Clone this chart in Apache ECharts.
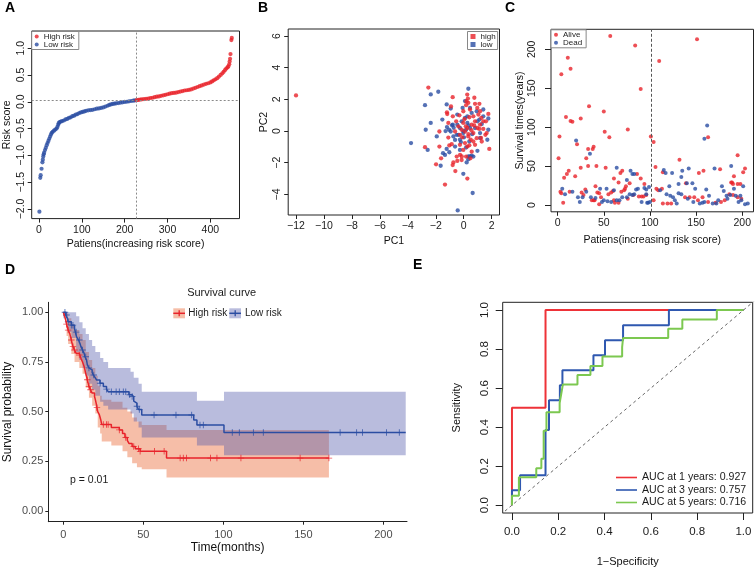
<!DOCTYPE html>
<html>
<head>
<meta charset="utf-8">
<script src="https://cdn.jsdelivr.net/npm/echarts@6.0.0/dist/echarts.min.js"></script>
<style>
  html, body { margin: 0; padding: 0; background: #fff; }
  #fig { width: 755px; height: 568px; }
</style>
</head>
<body>
<div id="fig"></div>
<script>
// ---- A: risk score curve (patient index, risk score) ----
var riskLow = [[1,-2.05],[3,-1.42],[4,-1.37],[6,-1.25],[8,-1.13],[9,-1.08],[10,-1.02],[11,-0.98],[12,-0.95],[14,-0.9],[16,-0.86],[18,-0.81],[20,-0.77],[22,-0.73],[24,-0.69],[26,-0.65],[28,-0.61],[30,-0.58],[32,-0.56],[35,-0.54],[38,-0.52],[41,-0.5],[43,-0.47],[45,-0.43],[46,-0.4],[48,-0.38],[51,-0.37],[54,-0.36],[58,-0.35],[62,-0.33],[66,-0.32],[70,-0.3],[74,-0.29],[78,-0.27],[82,-0.26],[86,-0.24],[90,-0.23],[94,-0.21],[98,-0.2],[102,-0.19],[106,-0.18],[110,-0.17],[115,-0.16],[120,-0.155],[125,-0.15],[130,-0.14],[135,-0.13],[140,-0.125],[145,-0.115],[150,-0.105],[155,-0.09],[160,-0.075],[164,-0.06],[168,-0.05],[172,-0.04],[176,-0.035],[180,-0.03],[185,-0.025],[190,-0.018],[195,-0.01],[200,-0.004],[205,0.0],[210,0.008],[215,0.014],[220,0.02],[224,0.025]];
var riskHigh = [[228,0.03],[232,0.035],[236,0.04],[240,0.045],[245,0.05],[250,0.055],[255,0.06],[260,0.07],[265,0.075],[270,0.085],[275,0.095],[280,0.1],[285,0.11],[290,0.12],[295,0.13],[300,0.14],[305,0.15],[310,0.16],[315,0.165],[320,0.17],[325,0.18],[330,0.19],[335,0.2],[340,0.21],[345,0.215],[350,0.22],[355,0.23],[360,0.245],[365,0.26],[370,0.275],[375,0.29],[380,0.305],[385,0.32],[390,0.335],[395,0.345],[400,0.36],[404,0.38],[408,0.4],[412,0.42],[416,0.44],[420,0.47],[424,0.5],[428,0.53],[431,0.56],[434,0.59],[437,0.62],[440,0.64],[442,0.66],[444,0.7],[445,0.75],[446,0.8],[447,0.89],[449,1.15],[450,1.19]];
var riskCut = 226.5;
var riskMedian = 0.03;

// ---- B: PCA (PC1, PC2) ----
var pcaHigh = [[-12.0,2.25],[-2.53,2.74],[-0.79,2.14],[0.25,2.3],[0.3,2.05],[0.2,1.88],[0.33,1.78],[1.12,1.72],[0.97,1.46],[-0.91,1.55],[-1.2,1.18],[-1.18,1.07],[-2.77,-1.02],[-1.98,-2.1],[-1.34,-3.38],[0.26,-3.0],[-0.6,-2.53],[-0.79,-2.15],[-0.46,-1.89],[0.48,-1.72],[-0.14,-1.6],[-0.26,-1.5],[-1.62,-1.72],[-1.03,-0.91],[-0.86,-0.83],[-1.74,-0.98],[-1.74,-0.03],[-1.1,-0.41],[1.83,-1.13],[1.55,-0.24],[1.76,1.08],[1.26,0.83],[1.12,0.13],[1.24,-0.44],[-0.31,0.99],[-0.03,1.25],[0.45,1.36],[0.69,0.93],[0.81,0.61],[0.57,0.4],[0.26,0.19],[0.09,-0.03],[-0.15,0.08],[-0.27,-0.24],[0.33,-0.19],[0.69,-0.13],[0.98,0.19],[1.17,0.4],[0.93,-0.45],[0.5,-0.55],[0.09,-0.76],[-0.27,-0.87],[0.26,-0.98],[0.81,-0.87],[1.29,-0.66],[-0.03,0.51],[-0.38,0.29],[1.05,1.04],[1.4,0.61],[0.4,0.87],[0.17,1.63],[-0.54,0.61],[-0.78,0.93],[-1.1,0.51],[-0.03,-1.19],[0.57,-1.3],[-0.5,-1.61],[0.17,-1.61],[-0.74,-1.98],[-0.15,-1.83],[0.33,-0.34],[0.69,-0.66],[-0.62,-0.03],[1.4,0.13],[1.59,0.61],[1.64,-0.13],[1.17,1.25],[0.81,1.72],[0.76,2.1],[0.15,0.3],[0.55,0.05],[-0.1,-0.4],[0.4,-0.9],[0.75,0.35],[0.05,0.75]];
var pcaLow = [[-1.82,2.48],[-2.36,2.31],[0.33,2.67],[-2.77,1.63],[-1.22,1.68],[-0.93,1.42],[-1.53,0.72],[-2.36,0.51],[-2.72,0.08],[-3.77,-0.76],[-2.58,-1.19],[-1.65,-2.19],[0.64,-3.91],[-0.43,-5.01],[-0.03,-2.7],[0.21,-1.98],[0.33,-1.6],[0.45,-1.6],[0.57,-1.55],[-1.34,-1.51],[-1.48,-1.4],[-1.03,-1.34],[-1.22,-1.13],[-1.93,-0.34],[-1.3,0.0],[-1.2,0.25],[-1.05,0.08],[-0.84,0.36],[-0.72,0.2],[-0.5,-0.24],[-0.62,-0.56],[1.69,-0.55],[1.4,1.36],[1.76,0.79],[1.17,-0.44],[-0.46,0.4],[-0.15,0.61],[-0.27,0.19],[-0.03,-0.13],[0.17,0.08],[0.45,0.19],[0.26,0.51],[0.09,0.83],[0.57,1.14],[0.93,1.25],[1.4,0.93],[1.12,0.72],[-0.27,-0.55],[0.02,-0.4],[0.4,-0.66],[0.17,-1.04],[-0.27,-1.19],[-0.62,-0.98],[0.98,-1.25],[1.17,-0.13],[0.81,0.19],[-0.74,-0.34],[-0.93,-0.03],[-0.46,1.04],[-0.08,1.46],[0.09,1.89],[0.45,1.46],[0.26,0.93],[0.98,0.61],[1.29,0.44],[1.76,0.08],[0.69,-1.61],[0.33,-1.78],[-0.03,0.0],[-0.38,-0.24],[-0.78,0.4],[0.6,-0.2],[-0.2,-0.7],[0.35,0.35]];

// ---- C: survival time by patient index ----
var survAlive = [[57,217],[84,205],[11,189],[4,168],[14,175],[90,149],[34,127],[50,120],[9,113],[25,111],[14,108],[16,107],[2,88],[51,94],[56,87],[76,97],[21,78],[39,75],[33,72],[38,72],[31,60],[1,60],[33,50],[42,50],[25,48],[52,48],[12,44],[10,40],[7,35],[19,37],[70,44],[68,41],[86,40],[90,34],[61,34],[66,29],[74,24],[73,21],[78,28],[41,24],[94,27],[3,17],[4,15],[6,3],[13,17],[26,16],[30,20],[28,13],[37,6],[39,6],[40,6],[43,16],[45,15],[47,10],[45,1],[55,14],[58,16],[60,18],[61,6],[62,3],[66,3],[69,17],[72,19],[76,8],[82,13],[88,11],[91,11],[93,11],[96,13],[151,213],[110,185],[163,87],[101,88],[104,81],[195,64],[106,49],[132,58],[114,42],[153,41],[158,44],[176,46],[203,47],[201,42],[191,37],[198,27],[188,29],[190,27],[107,21],[109,19],[113,21],[104,6],[114,2],[119,2],[123,2],[138,10],[143,10],[139,28],[148,10],[152,6],[157,10],[163,4],[171,3],[177,4],[181,6],[186,14],[190,13],[195,10],[199,8],[195,27],[189,29]];
var survDead = [[20,83],[35,66],[64,48],[79,44],[81,40],[83,40],[75,32],[94,22],[96,20],[5,21],[8,14],[16,17],[22,10],[24,4],[27,10],[31,17],[36,10],[41,9],[46,21],[50,6],[53,21],[48,4],[54,5],[58,4],[64,6],[67,6],[70,10],[75,10],[78,14],[81,13],[83,14],[85,20],[87,21],[91,4],[98,3],[61,19],[162,102],[159,85],[115,45],[117,41],[124,41],[135,44],[142,47],[170,47],[188,50],[134,36],[131,27],[121,24],[146,28],[140,28],[96,14],[99,23],[100,4],[97,3],[111,19],[118,14],[122,12],[125,10],[127,6],[129,2],[131,15],[134,14],[141,8],[147,4],[149,21],[154,2],[157,3],[159,4],[161,20],[164,12],[168,2],[172,2],[174,6],[178,24],[180,18],[183,12],[184,8],[187,13],[191,21],[193,12],[196,4],[199,6],[201,24],[203,1],[198,12],[206,2]];
var survCut = 101.5;

// ---- D: Kaplan-Meier (months, survival) ----
var kmHigh = [[0,1.0],[1,0.975],[1.5,0.96],[2,0.94],[2.5,0.927],[3,0.91],[4,0.893],[4.5,0.876],[5,0.86],[5.5,0.843],[6,0.827],[7,0.81],[8,0.793],[10,0.785],[11,0.768],[12,0.75],[13,0.727],[13.5,0.71],[14,0.69],[14.5,0.677],[15,0.66],[15.5,0.643],[16,0.627],[17,0.61],[18,0.593],[19.5,0.576],[20,0.56],[20.5,0.543],[21,0.52],[21.5,0.5],[22.5,0.485],[23,0.47],[23.5,0.455],[24,0.435],[30,0.42],[35,0.408],[37,0.39],[38.5,0.37],[40,0.355],[41,0.34],[43,0.325],[45,0.313],[48,0.3],[64.5,0.266],[166,0.266]];
var kmLow = [[0,1.0],[1.5,0.986],[2.5,0.97],[3,0.952],[5,0.935],[7,0.918],[7.5,0.9],[8.3,0.876],[9.5,0.86],[10.4,0.843],[11,0.827],[12,0.81],[13,0.793],[13.5,0.776],[14.5,0.76],[15,0.735],[16,0.72],[16.7,0.71],[18,0.697],[18.75,0.684],[20,0.67],[20.8,0.659],[22.9,0.643],[25,0.626],[27,0.613],[28,0.6],[41,0.585],[42.5,0.576],[44,0.553],[45,0.543],[46,0.527],[47,0.51],[49,0.483],[81.5,0.458],[83.5,0.433],[100.4,0.395],[214,0.395]];
var ciHighUpper = [[0,1],[2,0.995],[3,0.97],[5,0.94],[7,0.91],[10,0.89],[12,0.86],[14,0.8],[16,0.76],[18,0.72],[20,0.68],[21.5,0.63],[23,0.58],[24,0.56],[30,0.55],[37,0.52],[40,0.5],[43,0.47],[46,0.45],[49,0.433],[64.5,0.408],[166,0.408]];
var ciHighLower = [[0,0.98],[2,0.88],[3,0.84],[5,0.79],[7,0.75],[10,0.72],[12,0.69],[14,0.62],[16,0.57],[18,0.53],[20,0.49],[21.5,0.42],[23,0.39],[24,0.35],[30,0.33],[37,0.3],[40,0.27],[43,0.24],[46,0.22],[49,0.21],[64.5,0.168],[166,0.168]];
var ciLowUpper = [[0,1],[5,1],[8,0.98],[10,0.95],[12,0.92],[14,0.89],[16,0.86],[18,0.83],[20,0.8],[23,0.77],[25,0.75],[28,0.72],[42,0.7],[44,0.67],[47,0.64],[49,0.6],[83.5,0.555],[100.4,0.6],[214,0.6]];
var ciLowLower = [[0,0.97],[3,0.9],[5,0.87],[8,0.8],[10,0.76],[12,0.72],[14,0.68],[16,0.64],[18,0.61],[20,0.58],[23,0.55],[25,0.53],[28,0.51],[42,0.49],[44,0.45],[47,0.42],[49,0.37],[83.5,0.33],[100.4,0.28],[214,0.28]];
var censorHigh = [2,3,5,6,7,10,15,16,17,21,25,27,28,35,39,44,47,48,57,63,73,75,77,92,96,111,148,166];
var censorLow = [1,2,3,5,6,8,10,12,14,16,19,23,27,30,33,35,37.5,39,41.5,43,46,47.5,56.7,70.4,80.2,85.4,87.5,105.6,110,118.8,125,173,183.3,187,202,210];
var pValue = 'p = 0.01';

// ---- E: time-dependent ROC (1-specificity, sensitivity) ----
var roc1 = [[0,0],[0,0.5],[0.145,0.5],[0.145,1],[1,1]];
var roc3 = [[0,0],[0,0.077],[0.035,0.077],[0.035,0.154],[0.145,0.154],[0.145,0.385],[0.16,0.385],[0.16,0.538],[0.207,0.538],[0.207,0.615],[0.218,0.615],[0.218,0.692],[0.352,0.692],[0.352,0.769],[0.402,0.769],[0.402,0.846],[0.48,0.846],[0.48,0.923],[0.678,0.923],[0.678,1],[1,1]];
var roc5 = [[0,0],[0,0.048],[0.03,0.048],[0.03,0.143],[0.105,0.143],[0.105,0.19],[0.127,0.19],[0.127,0.238],[0.137,0.238],[0.137,0.381],[0.149,0.381],[0.149,0.476],[0.206,0.476],[0.206,0.524],[0.213,0.524],[0.213,0.571],[0.22,0.571],[0.22,0.619],[0.283,0.619],[0.283,0.667],[0.339,0.667],[0.339,0.714],[0.391,0.714],[0.391,0.762],[0.476,0.762],[0.476,0.81],[0.48,0.81],[0.48,0.857],[0.675,0.857],[0.675,0.905],[0.736,0.905],[0.736,0.952],[0.885,0.952],[0.885,1],[1,1]];
var rocNames = ['AUC at 1 years: 0.927', 'AUC at 3 years: 0.757', 'AUC at 5 years: 0.716'];

// tick positions
var aXTicks = [0,100,200,300,400], aYTicks = [-2,-1.5,-1,-0.5,0,0.5,1];
var bXTicks = [-12,-10,-8,-6,-4,-2,0,2], bYTicks = [-4,-2,0,2,4,6];
var cXTicks = [0,50,100,150,200], cYTicks = [0,50,100,150,200];
var dXTicks = [0,50,100,150,200], dYTicks = [0,0.25,0.5,0.75,1];
var eTicks = [0,0.2,0.4,0.6,0.8,1];

var FONT = '"Liberation Sans", Arial, sans-serif';
var RED = '#E8232B', BLUE = '#2B4DA2';

function minus(s) { return String(s).replace('-', '\u2212'); }

function axis(o) {
  return {
    type: 'value', gridIndex: o.g, min: o.min, max: o.max,
    axisLine: { show: !!o.line, onZero: false, lineStyle: { color: '#222', width: 1 } },
    axisTick: { show: true, length: o.tl || 4, customValues: o.ticks, lineStyle: { color: '#222', width: 1 } },
    axisLabel: { customValues: o.ticks, formatter: o.fmt, rotate: o.rot || 0, margin: o.m,
      fontSize: o.fs, color: o.lc || '#1a1a1a', fontFamily: FONT, hideOverlap: false },
    splitLine: { show: false },
    name: o.name, nameLocation: 'middle', nameGap: o.ng,
    nameTextStyle: { fontSize: o.nfs || o.fs, color: '#111', fontFamily: FONT }
  };
}

// step-function helpers for the KM panel
function stepPts(arr) {
  var out = [];
  for (var i = 0; i < arr.length; i++) {
    if (i > 0) out.push([arr[i][0], arr[i - 1][1]]);
    out.push(arr[i]);
  }
  return out;
}
function survAt(curve, t) {
  var s = curve[0][1];
  for (var i = 0; i < curve.length; i++) { if (curve[i][0] <= t) s = curve[i][1]; }
  return s;
}
function band(upper, lower, fill) {
  return {
    type: 'custom', xAxisIndex: 3, yAxisIndex: 3, silent: true, clip: true,
    data: [[0, 0.5]],
    renderItem: function (params, api) {
      var pts = stepPts(upper).map(function (p) { return api.coord(p); });
      stepPts(lower).reverse().forEach(function (p) { pts.push(api.coord(p)); });
      return { type: 'polygon', shape: { points: pts }, style: { fill: fill } };
    }
  };
}
var PLUS = 'path://M0,4.3H10V5.7H0ZM4.3,0H5.7V10H4.3Z';

var fmt1 = function (v) { return minus(v.toFixed(1)); };
var fmt0 = function (v) { return minus(String(v)); };
var fmt2 = function (v) { return v.toFixed(2); };

var chart = echarts.init(document.getElementById('fig'), null, { renderer: 'canvas' });

var option = {
  animation: false,
  backgroundColor: '#fff',
  textStyle: { fontFamily: FONT },
  grid: [
    { left: 31.7, top: 31, width: 207.8, height: 187.6, show: true, borderColor: '#222', borderWidth: 1, backgroundColor: 'transparent' },
    { left: 288.2, top: 29, width: 211.3, height: 186, show: true, borderColor: '#222', borderWidth: 1, backgroundColor: 'transparent' },
    { left: 551, top: 29.3, width: 202.5, height: 182.5, show: true, borderColor: '#222', borderWidth: 1, backgroundColor: 'transparent' },
    { left: 48.3, top: 302.3, width: 358.7, height: 219.4 },
    { left: 502.7, top: 302.3, width: 250, height: 211, show: true, borderColor: '#222', borderWidth: 1, backgroundColor: 'transparent' }
  ],
  xAxis: [
    axis({ g: 0, min: -17, max: 468, ticks: aXTicks, fmt: fmt0, m: 6, fs: 10.5, name: 'Patiens(increasing risk score)', ng: 20 }),
    axis({ g: 1, min: -12.56, max: 2.56, ticks: bXTicks, fmt: fmt0, m: 6, fs: 10.5, name: 'PC1', ng: 21 }),
    axis({ g: 2, min: -7.2, max: 212.2, ticks: cXTicks, fmt: fmt0, m: 6, fs: 10.5, name: 'Patiens(increasing risk score)', ng: 23 }),
    axis({ g: 3, min: -9.4, max: 214.8, ticks: dXTicks, fmt: fmt0, m: 8, fs: 11, tl: 3, line: true, lc: '#4d4d4d', name: 'Time(months)', ng: 19, nfs: 12 }),
    axis({ g: 4, min: -0.04, max: 1.04, ticks: eTicks, fmt: fmt1, m: 13, fs: 11.5, tl: 7, name: '1\u2212Specificity', ng: 43, nfs: 11 })
  ],
  yAxis: [
    axis({ g: 0, min: -2.18, max: 1.32, ticks: aYTicks, fmt: fmt1, rot: 90, m: 5, fs: 10.5, name: 'Risk score', ng: 19 }),
    axis({ g: 1, min: -5.3, max: 6.44, ticks: bYTicks, fmt: fmt0, rot: 90, m: 6, fs: 10.5, name: 'PC2', ng: 19 }),
    axis({ g: 2, min: -8.7, max: 225.7, ticks: cYTicks, fmt: fmt0, rot: 90, m: 13, fs: 10.5, tl: 6, name: 'Survival times(years)', ng: 21 }),
    axis({ g: 3, min: -0.054, max: 1.05, ticks: dYTicks, fmt: fmt2, m: 5, fs: 11, tl: 3, line: true, lc: '#4d4d4d', name: 'Survival probability', ng: 35, nfs: 12 }),
    axis({ g: 4, min: -0.04, max: 1.04, ticks: eTicks, fmt: fmt1, rot: 90, m: 12, fs: 11.5, tl: 7, name: 'Sensitivity', ng: 40, nfs: 11 })
  ],
  legend: [
    { left: 31.7, top: 31.5, orient: 'vertical', data: ['High risk', 'Low risk'], icon: 'circle', itemWidth: 4, itemHeight: 4, itemGap: 0,
      padding: [1, 4, 1, 3], borderColor: '#888', borderWidth: 1, backgroundColor: '#fff', selectedMode: false,
      textStyle: { fontSize: 8, fontFamily: FONT, color: '#222' } },
    { left: 467.5, top: 31.5, orient: 'vertical', data: ['high', 'low'], icon: 'rect', itemWidth: 5, itemHeight: 5, itemGap: 0,
      padding: [1, 2, 1, 3], borderColor: '#888', borderWidth: 1, backgroundColor: '#fff', selectedMode: false,
      textStyle: { fontSize: 8, fontFamily: FONT, color: '#222' } },
    { left: 551, top: 29.8, orient: 'vertical', data: ['Alive', 'Dead'], icon: 'circle', itemWidth: 4, itemHeight: 4, itemGap: 0,
      padding: [1, 4, 1, 3], borderColor: '#888', borderWidth: 1, backgroundColor: '#fff', selectedMode: false,
      textStyle: { fontSize: 8, fontFamily: FONT, color: '#222' } },
    { left: 611, top: 467, orient: 'vertical', data: rocNames, icon: 'rect', itemWidth: 21, itemHeight: 1.6, itemGap: 1.5,
      selectedMode: false, textStyle: { fontSize: 10.6, fontFamily: FONT, color: '#1a1a1a' } }
  ],
  series: [
    { name: 'Low risk', type: 'scatter', xAxisIndex: 0, yAxisIndex: 0, data: riskLow, symbolSize: 4.2, itemStyle: { color: BLUE },
      markLine: { silent: true, symbol: ['none', 'none'], label: { show: false },
        lineStyle: { type: [2, 2], color: '#8a8a8a', width: 1 },
        data: [{ yAxis: riskMedian }, { xAxis: riskCut }] } },
    { name: 'High risk', type: 'scatter', xAxisIndex: 0, yAxisIndex: 0, data: riskHigh, symbolSize: 4.2, itemStyle: { color: RED } },

    { name: 'low', type: 'scatter', xAxisIndex: 1, yAxisIndex: 1, data: pcaLow, symbolSize: 4.3, itemStyle: { color: BLUE } },
    { name: 'high', type: 'scatter', xAxisIndex: 1, yAxisIndex: 1, data: pcaHigh, symbolSize: 4.3, itemStyle: { color: RED } },

    { name: 'Alive', type: 'scatter', xAxisIndex: 2, yAxisIndex: 2, data: survAlive, symbolSize: 4, itemStyle: { color: RED },
      markLine: { silent: true, symbol: ['none', 'none'], label: { show: false },
        lineStyle: { type: [3, 2], color: '#555', width: 1 }, data: [{ xAxis: survCut }] } },
    { name: 'Dead', type: 'scatter', xAxisIndex: 2, yAxisIndex: 2, data: survDead, symbolSize: 4, itemStyle: { color: BLUE } },

    band(ciHighUpper, ciHighLower, 'rgba(234,100,48,0.42)'),
    band(ciLowUpper, ciLowLower, 'rgba(80,88,170,0.40)'),
    { name: 'High risk KM', type: 'line', xAxisIndex: 3, yAxisIndex: 3, data: kmHigh, step: 'end', showSymbol: false,
      lineStyle: { color: RED, width: 1.5 }, itemStyle: { color: RED } },
    { name: 'Low risk KM', type: 'line', xAxisIndex: 3, yAxisIndex: 3, data: kmLow, step: 'end', showSymbol: false,
      lineStyle: { color: BLUE, width: 1.5 }, itemStyle: { color: BLUE } },
    { name: 'High risk censored', type: 'scatter', xAxisIndex: 3, yAxisIndex: 3, symbol: PLUS, symbolSize: 6.5,
      data: censorHigh.map(function (t) { return [t, survAt(kmHigh, t)]; }), itemStyle: { color: RED } },
    { name: 'Low risk censored', type: 'scatter', xAxisIndex: 3, yAxisIndex: 3, symbol: PLUS, symbolSize: 6.5,
      data: censorLow.map(function (t) { return [t, survAt(kmLow, t)]; }), itemStyle: { color: BLUE } },

    { name: 'diag', type: 'line', xAxisIndex: 4, yAxisIndex: 4, data: [[-0.05, -0.05], [1.05, 1.05]], showSymbol: false, clip: true,
      lineStyle: { color: '#666', width: 1, type: [3, 3] } },
    { name: rocNames[0], type: 'line', xAxisIndex: 4, yAxisIndex: 4, data: roc1, showSymbol: false, lineStyle: { color: '#EE3238', width: 2 }, itemStyle: { color: '#EE3238' } },
    { name: rocNames[1], type: 'line', xAxisIndex: 4, yAxisIndex: 4, data: roc3, showSymbol: false, lineStyle: { color: '#2F58B0', width: 2 }, itemStyle: { color: '#2F58B0' } },
    { name: rocNames[2], type: 'line', xAxisIndex: 4, yAxisIndex: 4, data: roc5, showSymbol: false, lineStyle: { color: '#7CC850', width: 2 }, itemStyle: { color: '#7CC850' } }
  ],
  graphic: [
    { type: 'text', left: 5, top: 1, style: { text: 'A', font: 'bold 14px ' + FONT, fill: '#000' } },
    { type: 'text', left: 258, top: 1, style: { text: 'B', font: 'bold 14px ' + FONT, fill: '#000' } },
    { type: 'text', left: 505, top: 1, style: { text: 'C', font: 'bold 14px ' + FONT, fill: '#000' } },
    { type: 'text', left: 5, top: 263.5, style: { text: 'D', font: 'bold 14px ' + FONT, fill: '#000' } },
    { type: 'text', left: 413, top: 258.5, style: { text: 'E', font: 'bold 14px ' + FONT, fill: '#000' } },
    // D legend
    { type: 'text', x: 221.7, y: 293.3, style: { text: 'Survival curve', font: '11px ' + FONT, fill: '#1a1a1a', align: 'center', verticalAlign: 'middle' } },
    { type: 'rect', shape: { x: 173.3, y: 308.3, width: 11.7, height: 10 }, style: { fill: 'rgba(234,100,48,0.42)' } },
    { type: 'line', shape: { x1: 173.3, y1: 313.3, x2: 185, y2: 313.3 }, style: { stroke: RED, lineWidth: 1.5 } },
    { type: 'line', shape: { x1: 179.2, y1: 310.3, x2: 179.2, y2: 316.3 }, style: { stroke: RED, lineWidth: 1.3 } },
    { type: 'text', x: 188.3, y: 313.3, style: { text: 'High risk', font: '10px ' + FONT, fill: '#1a1a1a', verticalAlign: 'middle' } },
    { type: 'rect', shape: { x: 229.3, y: 308.3, width: 11.7, height: 10 }, style: { fill: 'rgba(80,88,170,0.40)' } },
    { type: 'line', shape: { x1: 229.3, y1: 313.3, x2: 241, y2: 313.3 }, style: { stroke: BLUE, lineWidth: 1.5 } },
    { type: 'line', shape: { x1: 235.2, y1: 310.3, x2: 235.2, y2: 316.3 }, style: { stroke: BLUE, lineWidth: 1.3 } },
    { type: 'text', x: 245, y: 313.3, style: { text: 'Low risk', font: '10px ' + FONT, fill: '#1a1a1a', verticalAlign: 'middle' } },
    { type: 'text', x: 70, y: 480, style: { text: pValue, font: '10.5px ' + FONT, fill: '#1a1a1a', verticalAlign: 'middle' } }
  ]
};
chart.setOption(option);
</script>
</body>
</html>
